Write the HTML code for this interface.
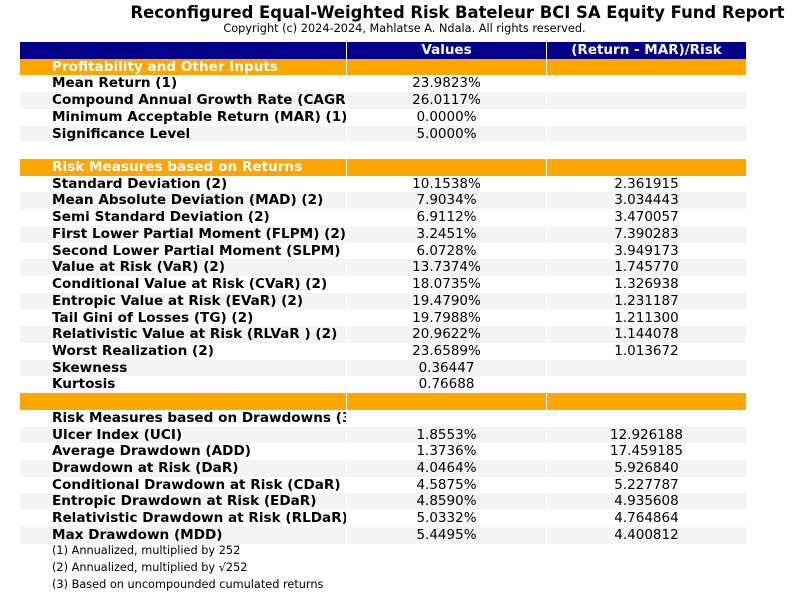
<!DOCTYPE html>
<html><head><meta charset="utf-8">
<style>
body{margin:0;width:807px;height:614px;background:#fff;position:relative;overflow:hidden;font-family:"DejaVu Sans","Liberation Sans",sans-serif;color:#000}
.t{position:absolute;left:0;width:807px;text-align:center;white-space:nowrap}
.row{position:absolute;left:20px;width:726px;height:16.72px}
.c{position:absolute;top:0;height:100%;overflow:hidden;white-space:nowrap;line-height:17px;font-size:13.5px}
.c1{left:0;width:326px}
.c2{left:327px;width:199px;text-align:center}
.c3{left:527px;width:199px;text-align:center}
.lab{padding-left:32px;font-weight:bold;box-sizing:border-box;font-size:13.6px}
.fn{position:absolute;left:52px;font-size:11.3px;white-space:nowrap}
</style></head><body>
<div class="t" style="top:3px;font-size:16.4px;font-weight:bold;left:54px">Reconfigured Equal-Weighted Risk Bateleur BCI SA Equity Fund Report</div>
<div class="t" style="top:22px;font-size:11.3px;left:1px">Copyright (c) 2024-2024, Mahlatse A. Ndala. All rights reserved.</div>
<div id="tbl"></div>
<div class="fn" style="top:544px">(1) Annualized, multiplied by 252</div>
<div class="fn" style="top:561px">(2) Annualized, multiplied by √252</div>
<div class="fn" style="top:578px">(3) Based on uncompounded cumulated returns</div>
<script>
// type: h=header, o=orange section, r=data row, b=blank
const rowTypes=["h","o","r","r","r","r","b","o","r","r","r","r","r","r","r","r","r","r","r","r","r","o","r","r","r","r","r","r","r","r"];
const labels=["","Profitability and Other Inputs","Mean Return (1)","Compound Annual Growth Rate (CAGR)","Minimum Acceptable Return (MAR) (1)","Significance Level","","Risk Measures based on Returns","Standard Deviation (2)","Mean Absolute Deviation (MAD) (2)","Semi Standard Deviation (2)","First Lower Partial Moment (FLPM) (2)","Second Lower Partial Moment (SLPM) (2)","Value at Risk (VaR) (2)","Conditional Value at Risk (CVaR) (2)","Entropic Value at Risk (EVaR) (2)","Tail Gini of Losses (TG) (2)","Relativistic Value at Risk (RLVaR ) (2)","Worst Realization (2)","Skewness","Kurtosis","","Risk Measures based on Drawdowns (3)","Ulcer Index (UCI)","Average Drawdown (ADD)","Drawdown at Risk (DaR)","Conditional Drawdown at Risk (CDaR)","Entropic Drawdown at Risk (EDaR)","Relativistic Drawdown at Risk (RLDaR)","Max Drawdown (MDD)"];
const values=["Values","","23.9823%","26.0117%","0.0000%","5.0000%","","","10.1538%","7.9034%","6.9112%","3.2451%","6.0728%","13.7374%","18.0735%","19.4790%","19.7988%","20.9622%","23.6589%","0.36447","0.76688","","","1.8553%","1.3736%","4.0464%","4.5875%","4.8590%","5.0332%","5.4495%"];
const ratios=["(Return - MAR)/Risk","","","","","","","","2.361915","3.034443","3.470057","7.390283","3.949173","1.745770","1.326938","1.231187","1.211300","1.144078","1.013672","","","","","12.926188","17.459185","5.926840","5.227787","4.935608","4.764864","4.400812"];
const grayRows=[3,5,9,11,13,15,17,19,23,25,27,29];
const tbl=document.getElementById('tbl');
rowTypes.forEach((ty,i)=>{
  const r=document.createElement('div');
  r.className='row';
  r.style.top=(42+i*16.72)+'px';
  
  
  let bg='#fff',fg='#000';
  if(ty==='h'){bg='#00008B';fg='#fff';}
  else if(ty==='o'){bg='#FFA500';fg='#fff';}
  else if(grayRows.includes(i)) bg='#f4f4f4';
  [['c1 lab',labels[i]],['c2',values[i]],['c3',ratios[i]]].forEach(([cls,txt],j)=>{
    const c=document.createElement('div');
    c.className='c '+cls;
    c.style.background=bg;c.style.color=fg;
    if(ty==='h'||ty==='o'){c.style.fontWeight='bold';}
    c.textContent=txt;
    
    
    r.appendChild(c);
  });
  tbl.appendChild(r);
});
</script>
</body></html>
